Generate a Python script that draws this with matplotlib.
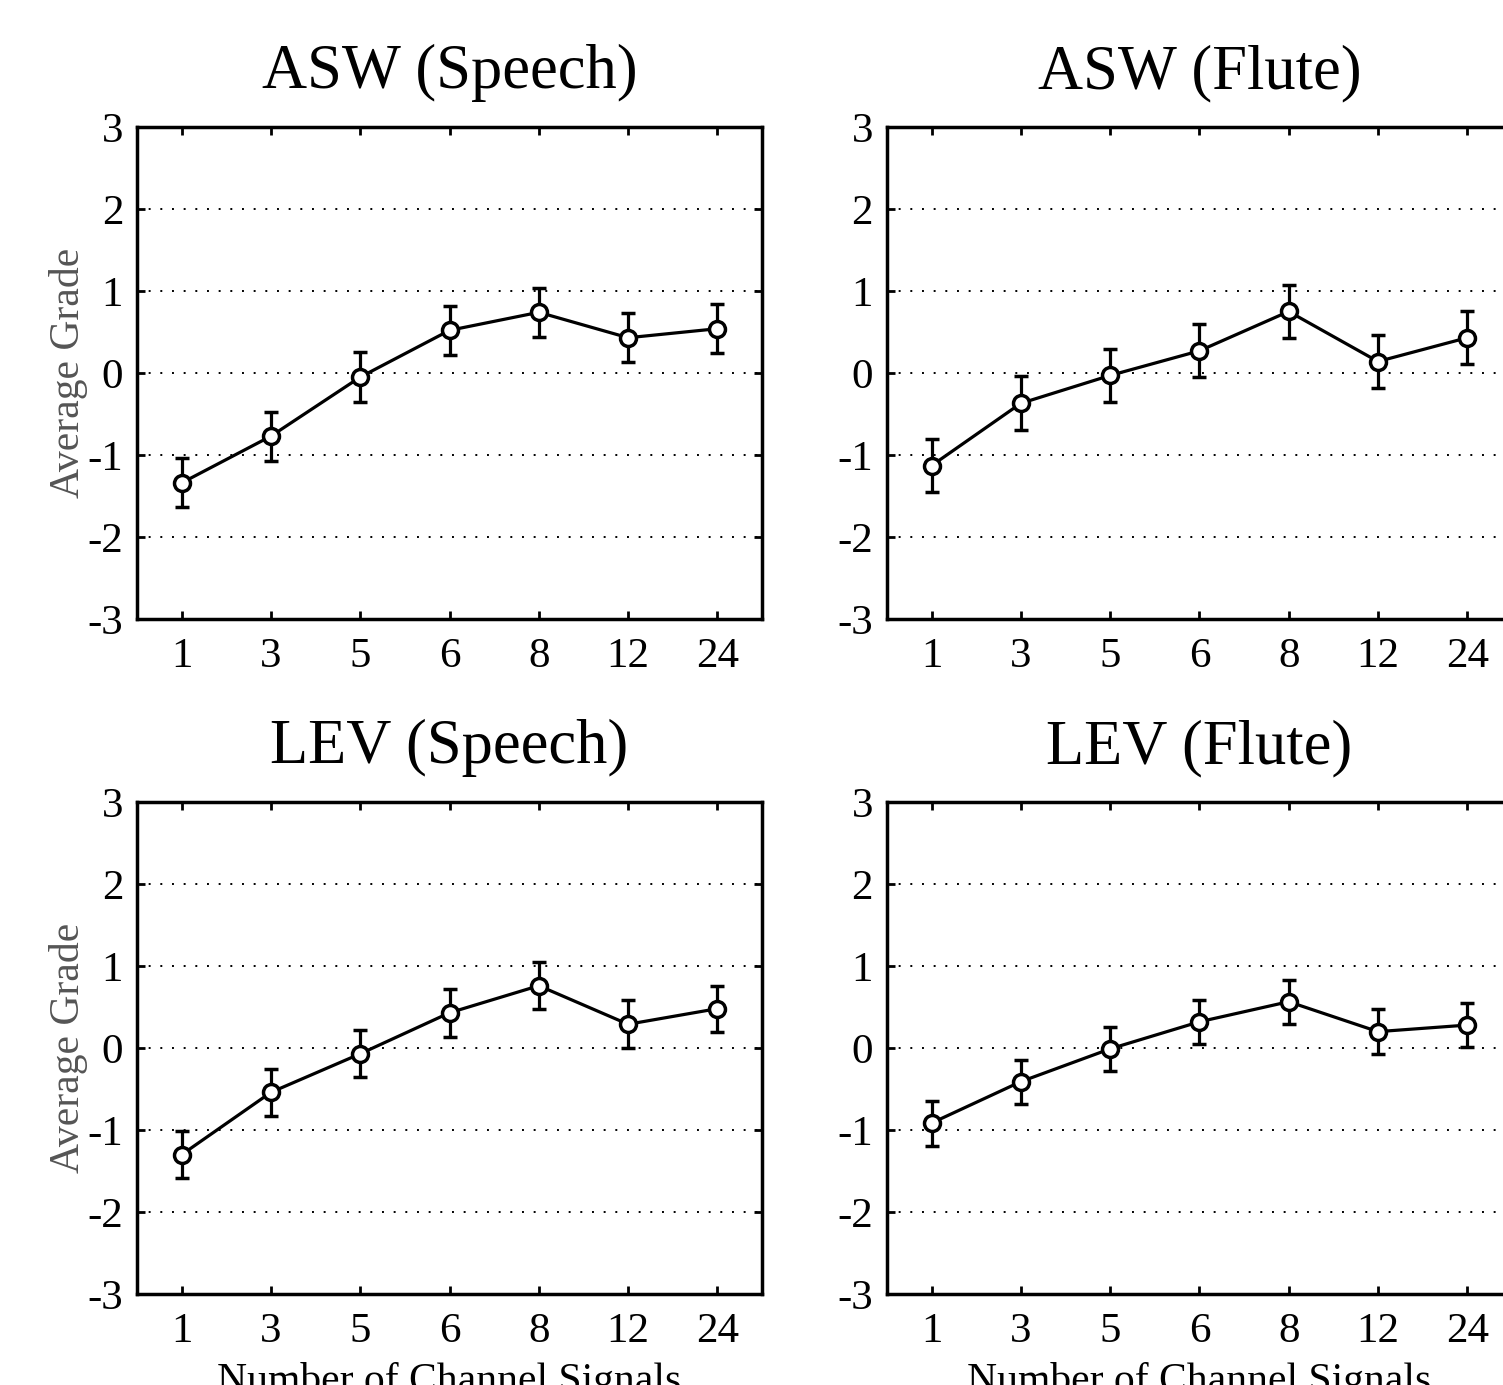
import matplotlib
matplotlib.use('Agg')
import matplotlib.pyplot as plt
import numpy as np

plt.rcParams['font.family'] = ['Liberation Serif', 'DejaVu Serif']

channels = ['1', '3', '5', '6', '8', '12', '24']

asw_speech = [-1.34, -0.77, -0.05, 0.52, 0.74, 0.43, 0.54]
asw_speech_err = [0.30, 0.30, 0.30, 0.30, 0.30, 0.30, 0.30]
asw_flute = [-1.13, -0.37, -0.03, 0.27, 0.75, 0.14, 0.43]
asw_flute_err = [0.325, 0.33, 0.325, 0.325, 0.325, 0.325, 0.325]
lev_speech = [-1.30, -0.54, -0.07, 0.43, 0.76, 0.29, 0.48]
lev_speech_err = [0.29, 0.285, 0.285, 0.29, 0.29, 0.29, 0.28]
lev_flute = [-0.915, -0.41, -0.01, 0.32, 0.565, 0.20, 0.28]
lev_flute_err = [0.275, 0.27, 0.27, 0.27, 0.27, 0.27, 0.27]

titles = ['ASW (Speech)', 'ASW (Flute)', 'LEV (Speech)', 'LEV (Flute)']
means = [asw_speech, asw_flute, lev_speech, lev_flute]
errs = [asw_speech_err, asw_flute_err, lev_speech_err, lev_flute_err]

fig = plt.figure(figsize=(15.03, 13.85), dpi=100)
lefts = [0.0912, 0.5901]
bottoms = [0.5531, 0.0657]
w, h = 0.4158, 0.3552

x = np.arange(1, len(channels) + 1)
for i in range(4):
    row, col = divmod(i, 2)
    ax = fig.add_axes([lefts[col], bottoms[row], w, h])
    ax.errorbar(x, means[i], yerr=errs[i], color='black', lw=2.3,
                marker='o', ms=11.5, mfc='white', mec='black', mew=2.5,
                capsize=5, capthick=2.3, elinewidth=2.3, zorder=3)
    ax.set_xlim(0.5, 7.5)
    ax.set_ylim(-3, 3)
    ax.set_xticks(x)
    ax.set_xticklabels(channels)
    ax.set_yticks(range(-3, 4))
    ax.set_yticklabels([str(v) for v in range(-3, 4)])
    for yv in range(-2, 3):
        ax.axhline(yv, color='black', lw=1.4, ls=(0, (1, 5)), zorder=1)
    ax.tick_params(direction='in', top=True, right=True, length=6, width=2,
                   labelsize=31)
    ax.tick_params(axis='x', pad=13)
    ax.tick_params(axis='y', pad=10)
    for s in ax.spines.values():
        s.set_linewidth(2.5)
    ax.set_title(titles[i], fontsize=45, pad=28)
    if col == 0:
        ax.set_ylabel('Average Grade', fontsize=30, color='#555555')
        ax.yaxis.set_label_coords(-0.078, 0.5)
    if row == 1:
        ax.set_xlabel('Number of Channel Signals', fontsize=30, labelpad=8)

fig.savefig('out.png', dpi=100)
